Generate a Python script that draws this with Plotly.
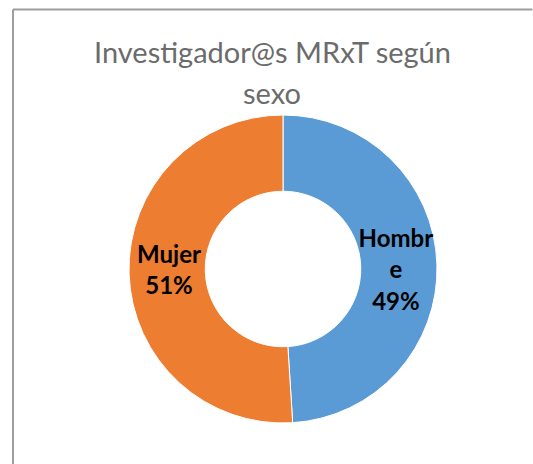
import plotly.graph_objects as go

labels = ["Hombre", "Mujer"]
values = [49, 51]
label_text = ["Hombr<br>e<br>49%", "Mujer<br>51%"]
colors = ["#5B9BD5", "#ED7D31"]
title_lines = ["Investigador@s MRxT según", "sexo"]

W, H = 533, 464

fig = go.Figure(go.Pie(
    labels=labels,
    values=values,
    text=label_text,
    textinfo="text",
    texttemplate="%{text}",
    textposition="inside",
    insidetextorientation="horizontal",
    hole=0.505,
    sort=False,
    direction="clockwise",
    rotation=0,
    marker=dict(colors=colors, line=dict(color="white", width=1)),
    textfont=dict(family="Lato", size=24, color="black", weight="bold"),
    domain=dict(x=[129 / W, 437 / W], y=[(H - 423) / H, (H - 115) / H]),
    showlegend=False,
    hoverinfo="label+percent",
))

fig.add_annotation(text=title_lines[0], x=272 / W, y=1 - 52 / H, xref="paper", yref="paper",
                   xanchor="center", yanchor="middle",
                   showarrow=False, font=dict(family="Lato", size=29, color="#6b6b6b"))
fig.add_annotation(text=title_lines[1], x=272 / W, y=1 - 92 / H, xref="paper", yref="paper",
                   xanchor="center", yanchor="middle",
                   showarrow=False, font=dict(family="Lato", size=29, color="#6b6b6b"))

# chart-area frame: only the top and left edges fall inside the window
border = dict(color="#9e9e9e", width=2)
fig.add_shape(type="line", xref="paper", yref="paper",
              x0=13 / W, x1=0.999, y0=1 - 9.5 / H, y1=1 - 9.5 / H, line=border)
fig.add_shape(type="line", xref="paper", yref="paper",
              x0=13 / W, x1=13 / W, y0=0.0, y1=1 - 9.5 / H, line=border)

fig.update_layout(
    width=W, height=H,
    margin=dict(l=0, r=0, t=0, b=0),
    paper_bgcolor="white",
    plot_bgcolor="white",
    uniformtext=dict(minsize=24, mode="show"),
)

fig.write_html("out.html", config={"displayModeBar": False},
               post_script="document.documentElement.style.overflow='hidden';document.body.style.margin='0';document.body.style.overflow='hidden';")
